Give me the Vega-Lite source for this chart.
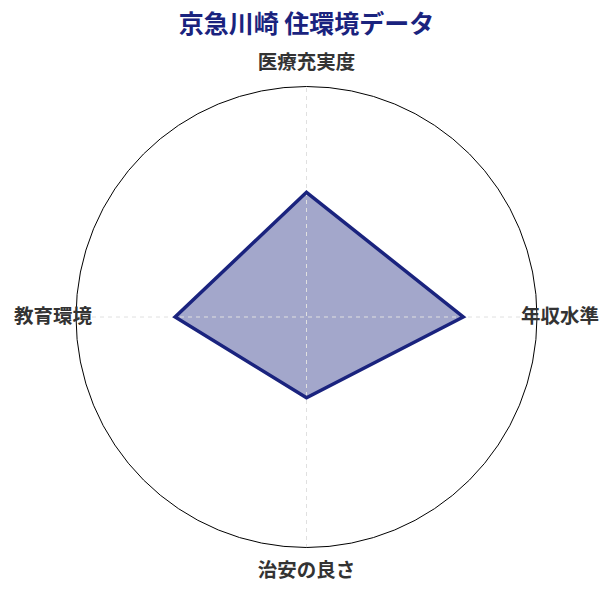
{
  "$schema": "https://vega.github.io/schema/vega-lite/v6.json",
  "width": 461,
  "height": 462,
  "autosize": {"type": "none"},
  "padding": {"left": 76, "top": 86, "right": 75, "bottom": 47},
  "background": "white",
  "config": {"view": {"stroke": null}, "font": "Noto Sans CJK JP"},
  "title": {
    "text": "京急川崎 住環境データ",
    "font": "Noto Sans CJK JP",
    "fontSize": 25,
    "fontWeight": "bold",
    "color": "#1a237e",
    "anchor": "middle",
    "offset": 15
  },
  "data": {
    "values": [
      {"axis": "医療充実度", "value": 54, "order": 0},
      {"axis": "年収水準", "value": 68, "order": 1},
      {"axis": "治安の良さ", "value": 35, "order": 2},
      {"axis": "教育環境", "value": 57, "order": 3}
    ]
  },
  "transform": [
    {"calculate": "datum.order * PI / 2", "as": "angle"},
    {"calculate": "datum.value / 100 * sin(datum.angle)", "as": "px"},
    {"calculate": "datum.value / 100 * cos(datum.angle)", "as": "py"},
    {"calculate": "1.1 * sin(datum.angle)", "as": "lx"},
    {"calculate": "1.1 * cos(datum.angle)", "as": "ly"}
  ],
  "resolve": {"scale": {"x": "shared", "y": "shared"}},
  "layer": [
    {
      "mark": {"type": "line", "interpolate": "linear-closed", "fill": "#1a237e", "fillOpacity": 0.4, "strokeWidth": 0, "stroke": null},
      "encoding": {
        "x": {"field": "px", "type": "quantitative", "scale": {"domain": [-1, 1], "nice": false, "zero": false}, "axis": null},
        "y": {"field": "py", "type": "quantitative", "scale": {"domain": [-1, 1], "nice": false, "zero": false}, "axis": null},
        "order": {"field": "order"}
      }
    },
    {
      "data": {"values": [{}]},
      "mark": {"type": "rule", "color": "#e0e0e0", "strokeDash": [4, 4], "strokeWidth": 1},
      "encoding": {
        "x": {"datum": 0, "type": "quantitative"},
        "y": {"datum": -1, "type": "quantitative"},
        "y2": {"datum": 1}
      }
    },
    {
      "data": {"values": [{}]},
      "mark": {"type": "rule", "color": "#e0e0e0", "strokeDash": [4, 4], "strokeWidth": 1},
      "encoding": {
        "y": {"datum": 0, "type": "quantitative"},
        "x": {"datum": -1, "type": "quantitative"},
        "x2": {"datum": 1}
      }
    },
    {
      "data": {"values": [{}]},
      "mark": {"type": "point", "shape": "circle", "filled": false, "size": 212521, "stroke": "#000000", "strokeWidth": 1, "opacity": 1},
      "encoding": {
        "x": {"datum": 0, "type": "quantitative"},
        "y": {"datum": 0, "type": "quantitative"}
      }
    },
    {
      "mark": {"type": "line", "interpolate": "linear-closed", "stroke": "#1a237e", "strokeWidth": 3.5, "strokeJoin": "miter"},
      "encoding": {
        "x": {"field": "px", "type": "quantitative"},
        "y": {"field": "py", "type": "quantitative"},
        "order": {"field": "order"}
      }
    },
    {
      "mark": {"type": "text", "font": "Noto Sans CJK JP", "fontSize": 19.5, "fontWeight": "bold", "color": "#333333", "align": "center", "baseline": "middle"},
      "encoding": {
        "x": {"field": "lx", "type": "quantitative"},
        "y": {"field": "ly", "type": "quantitative"},
        "text": {"field": "axis"}
      }
    }
  ]
}
